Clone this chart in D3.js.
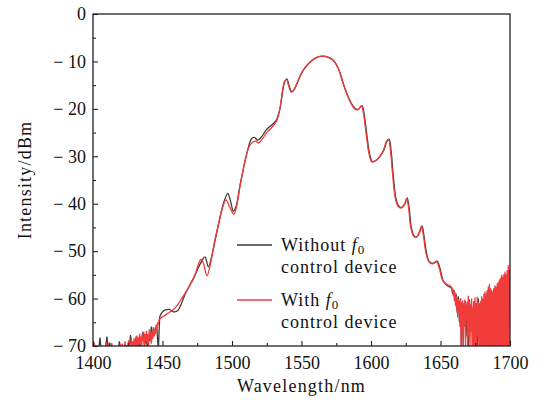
<!DOCTYPE html>
<html>
<head>
<meta charset="utf-8">
<script src="https://cdn.jsdelivr.net/npm/d3@7"></script>
<style>
  body { margin: 0; background: #fff; }
  text { font-family: "Liberation Serif", serif; fill: #111; }
</style>
</head>
<body>
<svg id="chart" width="542" height="401"></svg>
<script>
// ---- data ----
const xTicks = [1400, 1450, 1500, 1550, 1600, 1650, 1700];
const yTicks = [0, -10, -20, -30, -40, -50, -60, -70];

const legendLabels = [["Without ", "control device"], ["With ", "control device"]];

// noisy floor on the short-wavelength side, spectrometer grid
const withoutLeftStart = 1400, withoutLeftStep = 1;
const withoutLeft = [-71, -71, -71, -71, -71, -68.2, -71, -71, -71, -71, -68, -71, -69.3, -71, -71, -71,
  -71, -71, -71, -69, -71, -71, -71, -69.6, -71, -71, -71, -67.7, -71, -69.5, -71, -68, -71, -69, -71,
  -68.5, -67, -70, -68.5, -70, -67.5, -69, -65.9, -68, -67, -66.2, -66.5, -71];

const withLeftStart = 1400, withLeftStep = 0.5;
const withLeft = [-69.4, -69.6, -69.5, -70.2, -71, -71, -71, -71, -70.5, -71, -69.8, -71, -71, -71, -71,
  -70.3, -71, -71, -71, -69.2, -71, -71, -69.5, -71, -71, -71, -71, -69.4, -71, -70, -71, -71, -71, -71,
  -71, -70.2, -71, -71, -71, -69.6, -71, -71, -69.5, -71, -70.2, -71, -69, -71, -69.8, -71, -71, -68.8,
  -71, -69.5, -71, -68.5, -70.5, -69, -71, -68.4, -70.5, -68.8, -70.2, -67.8, -70, -68.2, -69.8, -67.4,
  -69.5, -68, -70.5, -67.6, -69, -67, -69.8, -67.5, -69, -66.8, -69.5, -67.5, -70, -66.5, -68.5, -67,
  -69.5, -66.8, -68.5, -66, -68, -66.5, -67.5, -65.5, -66.8, -65, -65.5, -64.5];

// smooth part of the spectra [wavelength nm, intensity dBm]
const withoutMain = [
  [1448, -63.8], [1450, -62.8], [1452, -62.4], [1455, -62.3], [1458, -62.8], [1461, -62.5], [1463, -61.5],
  [1465, -60], [1467, -58.6], [1470, -57], [1472, -56], [1475, -54], [1478, -52.2], [1480.5, -51.2],
  [1483, -53.3], [1485.5, -51], [1488, -47.5], [1491, -43.5], [1494, -39.8], [1497, -37.8], [1499, -39.5],
  [1501, -41.6], [1503, -40.5], [1505.5, -36.5], [1508, -32.9], [1511, -29], [1514, -26.3], [1516, -26],
  [1518.5, -26.6], [1521, -26], [1525, -24.3], [1529, -23.3], [1532, -22.3], [1534.5, -20], [1536.5, -16.2],
  [1538, -14.2], [1539.5, -13.7], [1541, -15], [1543, -16.4], [1545, -15.8], [1548, -13.8], [1551, -12],
  [1555, -10.5], [1560, -9.3], [1565, -8.9], [1569, -9.1], [1573, -9.8], [1577, -11.8], [1580, -14.6],
  [1583, -17], [1586, -18.9], [1589, -20], [1591, -20.1], [1593.5, -19.3], [1595, -21], [1597, -25.5],
  [1599, -29.5], [1601, -31.1], [1604, -30.8], [1607, -29.8], [1609.5, -28.5], [1611.5, -26.8], [1613, -26.4],
  [1614.5, -29], [1616, -34], [1618, -39], [1620, -40.5], [1622, -40.8], [1624.5, -40], [1626, -38.8],
  [1627.5, -41], [1629, -45], [1631, -46.8], [1633, -47], [1635, -46], [1636.7, -44.7], [1638, -46.5],
  [1640, -50.5], [1642, -52.2], [1644.5, -52.6], [1647.5, -52.1], [1649.5, -53.5], [1652, -56.3],
  [1655, -57.3], [1657, -57.6]
];

const withMain = [
  [1448, -64.3], [1450, -63.8], [1452, -63.5], [1455, -62.9], [1458, -62.3], [1461, -61.3], [1463, -60.3],
  [1466, -59], [1470, -57], [1474, -54.5], [1476.3, -52.4], [1477.8, -51.7], [1479.5, -52.6], [1482, -55.2],
  [1484.5, -52.7], [1487, -48.6], [1490, -44.6], [1493, -41], [1495.7, -39.2], [1498, -40.5], [1501.4, -42.2],
  [1503.5, -40.2], [1506, -36], [1509, -31.5], [1512, -28.2], [1515, -27], [1517, -26.8], [1519, -27.2],
  [1521.5, -26.5], [1525, -25], [1529, -23.8], [1532, -22.6], [1534.3, -20.2], [1536.2, -16.4], [1537.7, -14.3],
  [1539.2, -13.8], [1540.7, -15.1], [1542.7, -16.5], [1544.7, -15.9], [1547.7, -13.9], [1550.7, -12.1],
  [1555, -10.5], [1560, -9.3], [1565, -8.9], [1569, -9.1], [1573, -9.8], [1576.7, -11.7], [1579.7, -14.5],
  [1582.7, -16.9], [1585.7, -18.9], [1588.7, -20.1], [1590.7, -20.2], [1593.1, -19.4], [1594.6, -21],
  [1596.6, -25.5], [1598.6, -29.5], [1600.6, -31.2], [1603.6, -30.9], [1606.6, -29.9], [1609.1, -28.6],
  [1611.1, -26.9], [1612.6, -26.5], [1614.1, -29], [1615.6, -34], [1617.6, -39], [1619.6, -40.6],
  [1621.6, -40.9], [1624.1, -40.1], [1625.6, -38.9], [1627.1, -41], [1628.6, -45], [1630.6, -46.8],
  [1632.6, -47.1], [1634.6, -46.1], [1636.3, -44.8], [1637.6, -46.5], [1639.6, -50.5], [1641.6, -52.2],
  [1644.1, -52.7], [1647.1, -52.2], [1649.1, -53.6], [1651.6, -56.2], [1654.6, -57], [1656.6, -57.2]
];

// noisy floor on the long-wavelength side
const withoutRightStart = 1658, withoutRightStep = 0.8;
const withoutRight = [-57.8, -59, -58.2, -60.5, -59, -63, -59.5, -65, -60, -71, -61, -66, -60.5, -68, -61,
  -71, -60.2, -67, -61.5, -71, -60.8, -69, -61, -71, -60, -68, -61, -71, -60.2, -71, -59, -71, -58.6, -71,
  -57.4, -71, -58.6, -71, -58, -71, -57.8, -71, -57, -71, -56, -71, -55.8, -71, -55, -71, -54.6, -71, -54];

const withRightStart = 1658, withRightStep = 0.4;
const withRight = [-57.6, -58.5, -57.9, -59.5, -58.3, -60.5, -58.6, -61.5, -59.4, -62.5, -59.8, -64, -60.2,
  -63, -60.5, -66, -60, -71, -60.8, -67, -60.4, -71, -61, -66, -60.2, -71, -61.5, -64.5, -60.6, -71, -59.4,
  -68, -60.5, -71, -61.2, -66.5, -60, -71, -62, -71, -60.5, -70, -59.8, -71, -61, -71, -59.6, -68, -60.8,
  -71, -61, -71, -60.5, -71, -59.5, -71, -60, -71, -59, -71, -58.5, -71, -59.5, -71, -58.2, -71, -57.5, -71,
  -56.9, -71, -57.8, -71, -58.2, -71, -58.5, -71, -57.8, -71, -57.2, -71, -57.5, -71, -56.8, -71, -56.5, -71,
  -56, -71, -55.6, -71, -55, -71, -55.4, -71, -54.8, -71, -54.3, -71, -55, -71, -54, -71, -53, -71, -54.2, -54.6];

// ---- layout ----
const svg = d3.select("#chart");
const margin = { top: 14, right: 32, bottom: 55, left: 93 };
const W = 542 - margin.left - margin.right;
const H = 401 - margin.top - margin.bottom;

const x = d3.scaleLinear().domain([1400, 1700]).range([0, W]);
const y = d3.scaleLinear().domain([-70, 0]).range([H, 0]);

const g = svg.append("g").attr("transform", `translate(${margin.left},${margin.top})`);

g.append("clipPath").attr("id", "plot").append("rect").attr("width", W).attr("height", H);

function gridSeries(start, step, vals) {
  return vals.map((v, i) => [start + i * step, v]);
}

const smooth = d3.line().x(d => x(d[0])).y(d => y(d[1])).curve(d3.curveCatmullRom.alpha(0.5));
const jagged = d3.line().x(d => x(d[0])).y(d => y(d[1]));

const lines = g.append("g").attr("clip-path", "url(#plot)");

function drawSeries(left, main, right, color) {
  const sw = 1.3;
  lines.append("path").datum(left.concat([main[0]]))
    .attr("fill", "none").attr("stroke", color).attr("stroke-width", sw).attr("d", jagged);
  lines.append("path").datum(main)
    .attr("fill", "none").attr("stroke", color).attr("stroke-width", sw).attr("d", smooth);
  lines.append("path").datum([main[main.length - 1]].concat(right))
    .attr("fill", "none").attr("stroke", color).attr("stroke-width", sw).attr("d", jagged);
}

drawSeries(gridSeries(withoutLeftStart, withoutLeftStep, withoutLeft), withoutMain,
  gridSeries(withoutRightStart, withoutRightStep, withoutRight), "#3a3a3a");
drawSeries(gridSeries(withLeftStart, withLeftStep, withLeft), withMain,
  gridSeries(withRightStart, withRightStep, withRight), "#f23c3c");

// ---- axes, ticks pointing inward ----
const fmtY = d => d < 0 ? "\u2212 " + (-d) : d;

g.append("g").attr("transform", `translate(0,${H})`)
  .call(d3.axisBottom(x).tickValues(xTicks).tickSizeInner(-5).tickSizeOuter(0).tickPadding(10)
    .tickFormat(d3.format("d")));
g.append("g").attr("transform", `translate(0,${H})`)
  .call(d3.axisBottom(x).tickValues(d3.range(1425, 1700, 50)).tickSize(-3).tickFormat(""));

g.append("g")
  .call(d3.axisLeft(y).tickValues(yTicks).tickSizeInner(-5).tickSizeOuter(0).tickPadding(7).tickFormat(fmtY));
g.append("g")
  .call(d3.axisLeft(y).tickValues(d3.range(-65, 0, 10)).tickSize(-3).tickFormat(""));

g.selectAll(".domain").remove();
g.selectAll(".tick line").attr("stroke", "#222").attr("stroke-width", 1.1);
g.selectAll(".tick text").attr("font-size", 18).attr("font-family", "Liberation Serif").attr("fill", "#111");

g.append("rect").attr("width", W).attr("height", H)
  .attr("fill", "none").attr("stroke", "#222").attr("stroke-width", 1.3);

// axis titles
svg.append("text")
  .attr("x", margin.left + W / 2).attr("y", 392)
  .attr("text-anchor", "middle").attr("font-size", 18).attr("letter-spacing", 1.2)
  .text("Wavelength/nm");
svg.append("text")
  .attr("transform", `translate(31,${margin.top + H / 2}) rotate(-90)`)
  .attr("text-anchor", "middle").attr("font-size", 18).attr("letter-spacing", 1.2)
  .text("Intensity/dBm");

// ---- legend ----
const legendColors = ["#3a3a3a", "#f23c3c"];
const legend = svg.append("g");
legendLabels.forEach((lab, i) => {
  const ly = 245 + i * 55;
  legend.append("line")
    .attr("x1", 237).attr("x2", 272).attr("y1", ly).attr("y2", ly)
    .attr("stroke", legendColors[i]).attr("stroke-width", 1.3);
  const t = legend.append("text").attr("x", 281).attr("y", ly + 6)
    .attr("font-size", 18).attr("letter-spacing", 1);
  t.append("tspan").text(lab[0]);
  t.append("tspan").attr("font-style", "italic").text("f");
  t.append("tspan").attr("font-size", 13).attr("dy", 3).text("0");
  legend.append("text").attr("x", 281).attr("y", ly + 28)
    .attr("font-size", 18).attr("letter-spacing", 1)
    .text(lab[1]);
});
</script>
</body>
</html>
